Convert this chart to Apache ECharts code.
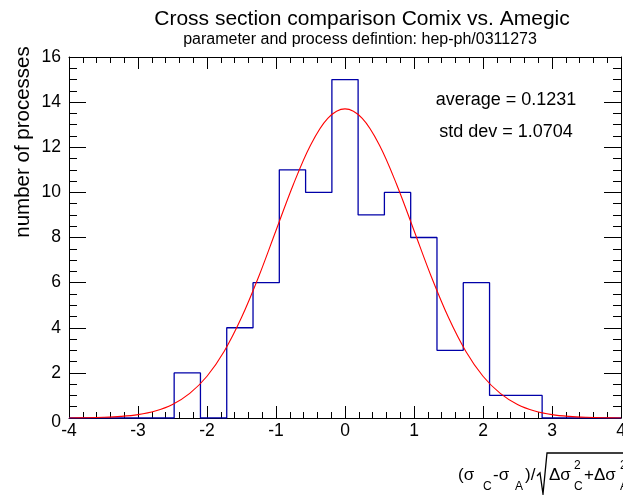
<!DOCTYPE html>
<html>
<head>
<meta charset="utf-8">
<script src="https://cdn.jsdelivr.net/npm/echarts@6/dist/echarts.min.js"></script>
<style>
html,body{margin:0;padding:0;background:#fff;overflow:hidden;}
#chart{width:623px;height:495px;}
</style>
</head>
<body>
<div id="chart"></div>
<script>
// Histogram: 21 bins from -4 to 4
const binEdges = [-4, -3.619, -3.238, -2.857, -2.476, -2.095, -1.714, -1.333, -0.952, -0.571, -0.190,
                  0.190, 0.571, 0.952, 1.333, 1.714, 2.095, 2.476, 2.857, 3.238, 3.619, 4];
const binCounts = [0, 0, 0, 0, 2, 0, 4, 6, 11, 10, 15, 9, 10, 8, 3, 6, 1, 1, 0, 0, 0];

// Fitted gaussian curve
const fitX = [-4, -3.75, -3.5, -3.25, -3, -2.75, -2.5, -2.25, -2, -1.75, -1.5, -1.25, -1, -0.75, -0.5, -0.25,
              0, 0.25, 0.5, 0.75, 1, 1.25, 1.5, 1.75, 2, 2.25, 2.5, 2.75, 3, 3.25, 3.5, 3.75, 4];
const fitY = [0.00, 0.01, 0.03, 0.07, 0.15, 0.31, 0.60, 1.09, 1.85, 2.96, 4.45, 6.27, 8.31, 10.34, 12.09, 13.28,
              13.70, 13.28, 12.09, 10.34, 8.31, 6.27, 4.45, 2.96, 1.85, 1.09, 0.60, 0.31, 0.15, 0.07, 0.03, 0.01, 0.00];

const xTicks = [-4, -3, -2, -1, 0, 1, 2, 3, 4];
const yTicks = [0, 2, 4, 6, 8, 10, 12, 14, 16];

const titleText = 'Cross section comparison Comix vs. Amegic';
const subtitleText = 'parameter and process defintion: hep-ph/0311273';
const yName = 'number of processes';
const statLines = ['average = 0.1231', 'std dev = 1.0704'];

const histData = binCounts.map((c, i) => [binEdges[i], c]);
histData.push([binEdges[binEdges.length - 1], 0]);
const fitData = fitX.map((x, i) => [x, fitY[i]]);

const FONT = '"Liberation Sans", Arial, Helvetica, sans-serif';
const chart = echarts.init(document.getElementById('chart'), null, {renderer: 'canvas'});

const baseX = {
  type: 'value', min: xTicks[0], max: xTicks[xTicks.length - 1], interval: 1,
  axisLine: {show: true, onZero: false, lineStyle: {color: '#000', width: 1}},
  axisTick: {show: true, inside: true, length: 12, lineStyle: {color: '#000'}},
  minorTick: {show: true, splitNumber: 5, length: 6, lineStyle: {color: '#000'}},
  splitLine: {show: false}
};
const baseY = {
  type: 'value', min: yTicks[0], max: yTicks[yTicks.length - 1], interval: 2,
  axisLine: {show: true, onZero: false, lineStyle: {color: '#000', width: 1}},
  axisTick: {show: true, inside: true, length: 17, lineStyle: {color: '#000'}},
  minorTick: {show: true, splitNumber: 4, length: 8, lineStyle: {color: '#000'}},
  splitLine: {show: false}
};

chart.setOption({
  animation: false,
  backgroundColor: '#fff',
  grid: {left: 69, right: 2, top: 57, bottom: 77, containLabel: false, outerBoundsMode: 'none'},
  xAxis: [
    Object.assign({}, baseX, {position: 'bottom',
      axisLabel: {show: true, fontSize: 17.5, color: '#000', fontFamily: FONT, margin: 4,
        showMinLabel: true, showMaxLabel: true, hideOverlap: false}}),
    Object.assign({}, baseX, {position: 'top', axisLabel: {show: false}})
  ],
  yAxis: [
    Object.assign({}, baseY, {position: 'left',
      axisLabel: {show: true, fontSize: 17.5, color: '#000', fontFamily: FONT, margin: 8,
        showMinLabel: true, showMaxLabel: true, hideOverlap: false,
        formatter: v => v === 0 ? '{z|0}' : String(v),
        rich: {z: {fontSize: 17.5, color: '#000', fontFamily: FONT, padding: [8, 0, 0, 0]}}}}),
    Object.assign({}, baseY, {position: 'right', axisLabel: {show: false}})
  ],
  series: [
    {
      type: 'line', xAxisIndex: 0, yAxisIndex: 0, data: histData, step: 'end',
      symbol: 'none', lineStyle: {color: '#0000a8', width: 1.3}, clip: true, z: 3
    },
    {
      type: 'line', xAxisIndex: 0, yAxisIndex: 0, data: fitData, smooth: 0.35,
      symbol: 'none', lineStyle: {color: '#ff0000', width: 1.1}, clip: true, z: 4
    }
  ],
  graphic: [
    {type: 'text', x: 362, y: 19, style: {text: titleText, font: '21px ' + FONT, fill: '#000', textAlign: 'center', textVerticalAlign: 'middle'}},
    {type: 'text', x: 360, y: 40, style: {text: subtitleText, font: '16px ' + FONT, fill: '#000', textAlign: 'center', textVerticalAlign: 'middle'}},
    {type: 'text', x: 23, y: 142, rotation: Math.PI / 2, style: {text: yName, font: '20.5px ' + FONT, fill: '#000', textAlign: 'center', textVerticalAlign: 'middle'}},
    {type: 'text', x: 506, y: 100, style: {text: statLines[0], font: '18px ' + FONT, fill: '#000', textAlign: 'center', textVerticalAlign: 'middle'}},
    {type: 'text', x: 506, y: 132, style: {text: statLines[1], font: '18px ' + FONT, fill: '#000', textAlign: 'center', textVerticalAlign: 'middle'}},
    // x-axis title: (σC-σA)/sqrt(ΔσC²+ΔσA²)
    {type: 'text', x: 458, y: 475, style: {text: '(σ', font: '17px ' + FONT, fill: '#000', textVerticalAlign: 'middle'}},
    {type: 'text', x: 483, y: 487, style: {text: 'C', font: '12px ' + FONT, fill: '#000', textVerticalAlign: 'middle'}},
    {type: 'text', x: 493, y: 475, style: {text: '-σ', font: '17px ' + FONT, fill: '#000', textVerticalAlign: 'middle'}},
    {type: 'text', x: 515, y: 487, style: {text: 'A', font: '12px ' + FONT, fill: '#000', textVerticalAlign: 'middle'}},
    {type: 'text', x: 525, y: 475, style: {text: ')/', font: '17px ' + FONT, fill: '#000', textVerticalAlign: 'middle'}},
    {type: 'polyline', shape: {points: [[537, 476], [540, 473], [543, 494], [547, 453], [623, 453]]}, style: {stroke: '#000', lineWidth: 1.3, fill: null}},
    {type: 'text', x: 549, y: 475, style: {text: 'Δσ', font: '17px ' + FONT, fill: '#000', textVerticalAlign: 'middle'}},
    {type: 'text', x: 574, y: 466, style: {text: '2', font: '12px ' + FONT, fill: '#000', textVerticalAlign: 'middle'}},
    {type: 'text', x: 574, y: 487, style: {text: 'C', font: '12px ' + FONT, fill: '#000', textVerticalAlign: 'middle'}},
    {type: 'text', x: 584, y: 475, style: {text: '+Δσ', font: '17px ' + FONT, fill: '#000', textVerticalAlign: 'middle'}},
    {type: 'text', x: 620, y: 466, style: {text: '2', font: '12px ' + FONT, fill: '#000', textVerticalAlign: 'middle'}},
    {type: 'text', x: 620, y: 487, style: {text: 'A', font: '12px ' + FONT, fill: '#000', textVerticalAlign: 'middle'}}
  ]
});
</script>
</body>
</html>
